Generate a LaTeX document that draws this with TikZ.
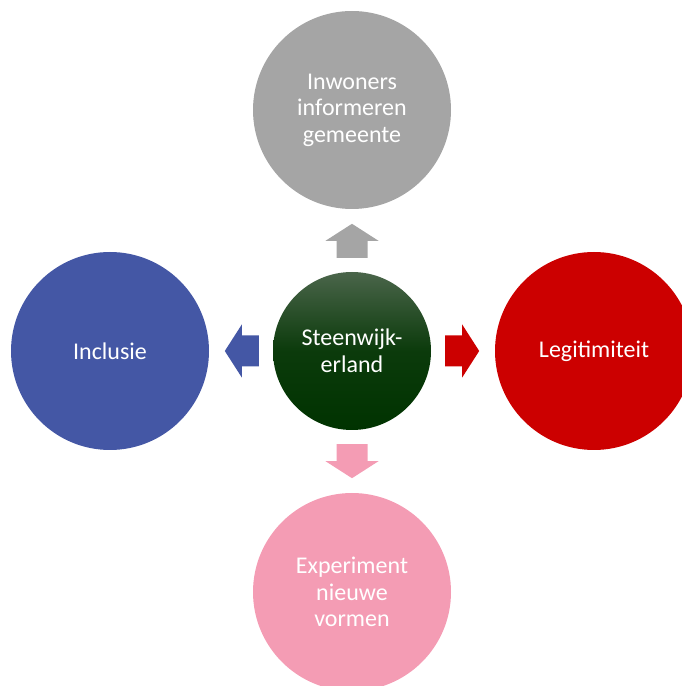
\documentclass[tikz,border=0pt]{standalone}
\usepackage{fontspec}
\setmainfont{Carlito}
\definecolor{greyc}{HTML}{A5A5A5}
\definecolor{bluec}{HTML}{4457A5}
\definecolor{redc}{HTML}{CC0000}
\definecolor{pinkc}{HTML}{F49CB4}
\definecolor{greentop}{HTML}{4A654A}
\definecolor{greenbot}{HTML}{003300}
\tikzset{
	blockarrow/.pic = {
		\fill [pic actions] (0, -15.5) -- ++(17, 0) --
		      ++(0, -11) -- (34, 0) --
		      (17, 26.5) -- ++(0, -11) --
		      (0, 15.5) -- cycle;
	},
	theme/.style = {circle, minimum size=198pt, inner sep=0pt, text=white,
		align=center, font=\fontsize{24}{26.5}\selectfont},
}

\begin{document}
\begin{tikzpicture}[x=1pt, y=1pt]
		\useasboundingbox (0, 0) rectangle (681, 686);
		\node [circle, minimum size=158pt, inner sep=0pt, text=white, align=center,
			font=\fontsize{24}{26.5}\selectfont,
			top color=greentop, bottom color=greenbot, middle color=greenbot!85!greentop]
			(centre) at (352, 335) {Steenwijk-\\erland};
		\node [theme, fill=greyc] (informeren) at (352, 576) {Inwoners\\informeren\\gemeente};
		\node [theme, fill=bluec] (inclusie) at (110, 335) {Inclusie};
		\node [theme, fill=redc] (legitimiteit) at (594, 335) {Legitimiteit};
		\node [theme, fill=pinkc] (experiment) at (352, 94) {Experiment\\nieuwe\\vormen};
		\pic [rotate=90, fill=greyc] at ([yshift=14pt]centre.north) {blockarrow};
		\pic [rotate=180, fill=bluec] at ([xshift=-14pt]centre.west) {blockarrow};
		\pic [fill=redc] at ([xshift=14pt]centre.east) {blockarrow};
		\pic [rotate=-90, fill=pinkc] at ([yshift=-14pt]centre.south) {blockarrow};
	\end{tikzpicture}
\end{document}
